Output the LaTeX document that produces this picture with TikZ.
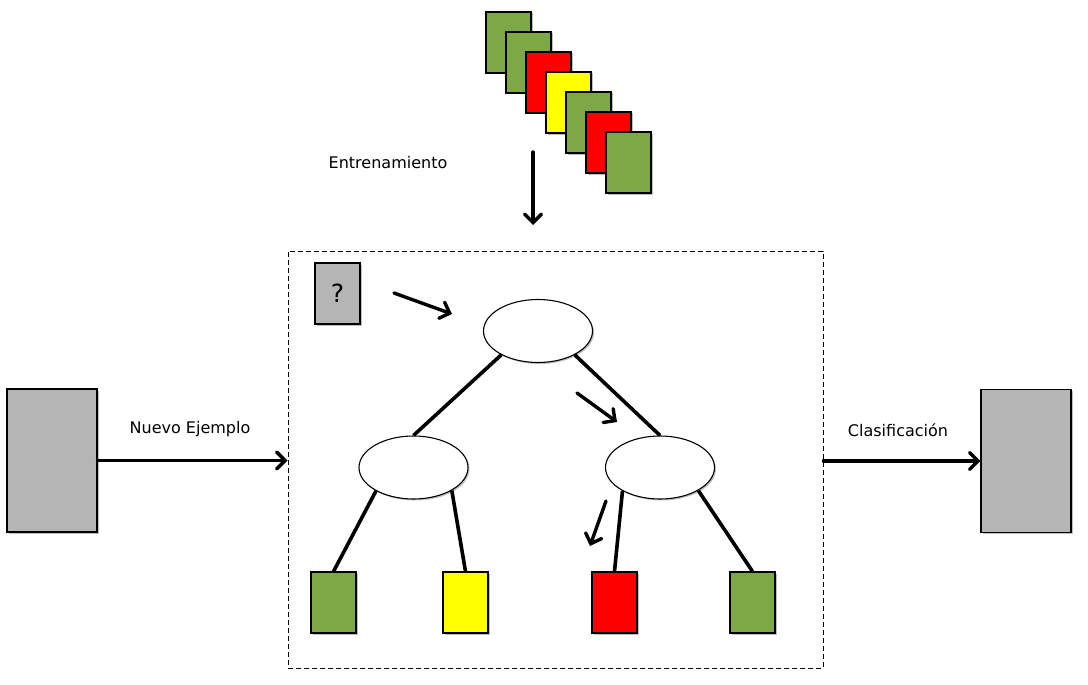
\documentclass[tikz,border=0pt]{standalone}
\usepackage{fontspec}
\setmainfont{DejaVu Sans}
\usetikzlibrary{arrows.meta,shapes.geometric,shadows,backgrounds}
\definecolor{cgreen}{RGB}{126,168,70}
\definecolor{cred}{RGB}{255,0,0}
\definecolor{cyellow}{RGB}{255,255,0}
\definecolor{cgray}{RGB}{181,181,181}
\tikzset{
  x=1pt, y=-1pt,
  shade box/.style={drop shadow={shadow xshift=1.5pt,shadow yshift=-1.5pt,opacity=0.25,fill=black}},
  card/.style={draw=black, line width=1.1pt, minimum width=45pt, minimum height=61pt, inner sep=0pt, shade box},
  bigbox/.style={draw=black, line width=1.1pt, fill=cgray, minimum width=90pt, minimum height=143pt, inner sep=0pt, shade box},
  treenode/.style={draw=black, line width=1.1pt, fill=white, ellipse, minimum width=109pt, minimum height=63pt, inner sep=0pt, shade box},
  branch/.style={line width=3.6pt},
  flow/.style={line width=3.4pt, line cap=round, -{Straight Barb[length=8.5pt,width=17pt,line cap=round]}},
  lbl/.style={font=\fontsize{16pt}{19pt}\selectfont, inner sep=0pt}
}
\begin{document}
\begin{tikzpicture}
\useasboundingbox (0,0) rectangle (1088,685);
% training stack
\node[card, fill=cgreen]  (c1) at (508.5,42.5) {};
\node[card, fill=cgreen]  (c2) at (528.5,62.5) {};
\node[card, fill=cred]    (c3) at (548.5,82.5) {};
\node[card, fill=cyellow] (c4) at (568.5,102.5) {};
\node[card, fill=cgreen]  (c5) at (588.5,122.5) {};
\node[card, fill=cred]    (c6) at (608.5,142.5) {};
\node[card, fill=cgreen]  (c7) at (628.5,162.5) {};
\node[lbl] (tr) at (388,163) {Entrenamiento};
\coordinate (trs) at (533,152);
\coordinate (tre) at (533,225);
\draw[flow] (trs) -- (tre);
% frame
\node[draw=black, dash pattern=on 5pt off 3pt, line width=0.9pt, minimum width=535pt, minimum height=417pt, inner sep=0pt] (frame) at (555.5,459.5) {};
% query
\node[card, fill=cgray, font=\fontsize{25pt}{28pt}\selectfont] (q) at (337.5,293.5) {?};
% tree
\node[treenode] (root) at (538,331) {};
\node[treenode] (nl) at (413.5,467.5) {};
\node[treenode] (nr) at (660,467.5) {};
\node[card, fill=cgreen]  (l1) at (333.5,602.5) {};
\node[card, fill=cyellow] (l2) at (465.5,602.5) {};
\node[card, fill=cred]    (l3) at (614.5,602.5) {};
\node[card, fill=cgreen]  (l4) at (752.5,602.5) {};
\begin{scope}[on background layer]
\draw[branch] (root.213) -- (nl.north);
\draw[branch] (root.327) -- (nr.north);
\draw[branch] (nl.212) -- (l1.north);
\draw[branch] (nl.329) -- (l2.north);
\draw[branch] (nr.212) -- (l3.north);
\draw[branch] (nr.329) -- (l4.north);
\end{scope}
% path arrows
\coordinate (a1s) at (394,293);
\coordinate (a1e) at (452,314);
\coordinate (a2s) at (577,393);
\coordinate (a2e) at (617,422);
\coordinate (a3s) at (606,501);
\coordinate (a3e) at (590,546);
\draw[flow] (a1s) -- (a1e);
\draw[flow] (a2s) -- (a2e);
\draw[flow] (a3s) -- (a3e);
% input / output
\node[bigbox] (inb) at (52,460.5) {};
\node[bigbox] (outb) at (1026,461) {};
\draw[flow] (inb.east) -- (inb.east -| frame.west);
\draw[flow] (outb.west -| frame.east) -- (outb.west);
\node[lbl] (nuevo) at (190,429) {Nuevo Ejemplo};
\node[lbl] (clas) at (898,430) {Clasificación};
\end{tikzpicture}
\end{document}
